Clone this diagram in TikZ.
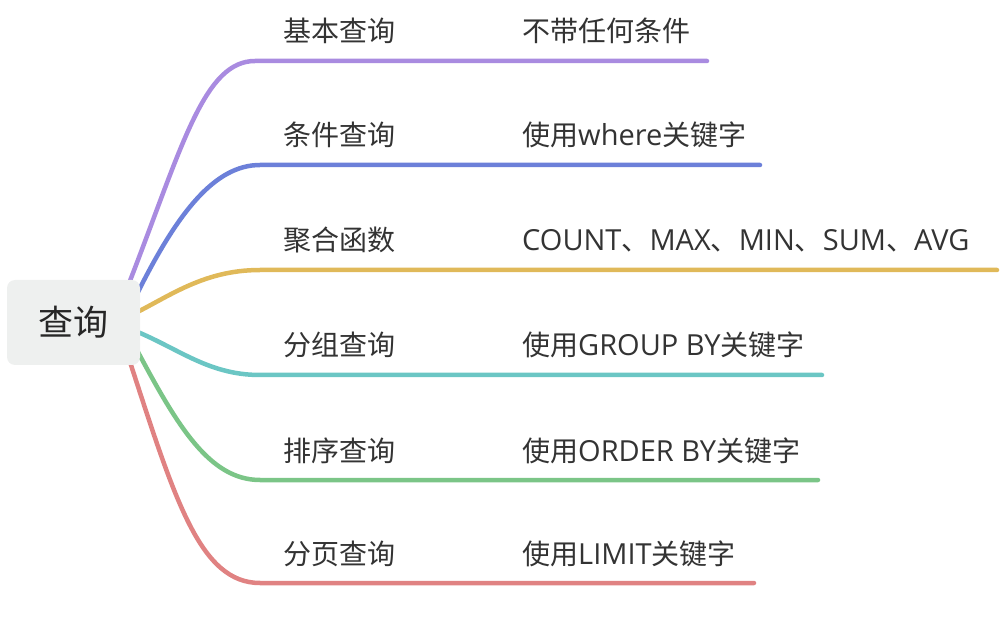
\documentclass[tikz,border=0pt]{standalone}
\usepackage{fontspec}
\setmainfont{Noto Sans CJK SC}
\newfontfamily\latf{Open Sans}
\newcommand{\lat}{\latf\fontsize{29}{32}\selectfont}
\begin{document}
\begin{tikzpicture}[x=1pt,y=-1pt,
  br/.style={line width=4.5pt,line cap=round},
  lab/.style={anchor=base west,inner sep=0pt,text=black!80,font=\fontsize{28}{32}\selectfont},
  rootbox/.style={draw=none,fill=rootfill,rounded corners=8pt,minimum width=133pt,minimum height=85pt,inner sep=0pt,text=black!85,font=\fontsize{35}{40}\selectfont}]
\definecolor{rootfill}{HTML}{EEF0EF}
\definecolor{cpurple}{HTML}{A98BE0}
\definecolor{cblue}{HTML}{6C80D9}
\definecolor{cyellow}{HTML}{E0B959}
\definecolor{cteal}{HTML}{6BC6C4}
\definecolor{cgreen}{HTML}{7BC587}
\definecolor{cred}{HTML}{E08282}
\useasboundingbox (0,0) rectangle (1002,628);
% start and end coordinates
\coordinate (s1) at (120,307);
\coordinate (a1) at (133,273);
\coordinate (e1) at (255,61);
\coordinate (f1) at (707,61);
\coordinate (s2) at (125,318);
\coordinate (a2) at (138,292);
\coordinate (e2) at (260,165);
\coordinate (f2) at (760,165);
\coordinate (a3) at (125,318);
\coordinate (e3) at (260,270);
\coordinate (f3) at (997,270);
\coordinate (a4) at (125,327);
\coordinate (e4) at (260,375);
\coordinate (f4) at (822,375);
\coordinate (s5) at (125,330);
\coordinate (a5) at (138,352);
\coordinate (e5) at (260,480);
\coordinate (f5) at (818,480);
\coordinate (s6) at (118,335);
\coordinate (a6) at (130,362);
\coordinate (e6) at (260,583);
\coordinate (f6) at (754,583);
% branches
\draw[br,cpurple] (s1) -- (a1) .. controls (183,143) and (205,61) .. (e1) -- (f1);
\draw[br,cblue] (s2) -- (a2) .. controls (178,212) and (215,165) .. (e2) -- (f2);
\draw[br,cyellow] (a3) .. controls (165,300) and (200,270) .. (e3) -- (f3);
\draw[br,cteal] (a4) .. controls (175,345) and (205,375) .. (e4) -- (f4);
\draw[br,cgreen] (s5) -- (a5) .. controls (178,427) and (210,480) .. (e5) -- (f5);
\draw[br,cred] (s6) -- (a6) .. controls (175,500) and (200,583) .. (e6) -- (f6);
% root
\node[rootbox] (root) at (73.5,322.5) {查询};
% labels
\node[lab] (l1) at (283,42) {基本查询};
\node[lab] (r1) at (522,42) {不带任何条件};
\node[lab] (l2) at (283,146) {条件查询};
\node[lab] (r2) at (522,146) {使用{\lat where}关键字};
\node[lab] (l3) at (283,251) {聚合函数};
\node[lab] (r3) at (522,251) {{\lat COUNT}、{\lat MAX}、{\lat MIN}、{\lat SUM}、{\lat AVG}};
\node[lab] (l4) at (283,356) {分组查询};
\node[lab] (r4) at (522,356) {使用{\lat GROUP BY}关键字};
\node[lab] (l5) at (283,461) {排序查询};
\node[lab] (r5) at (522,461) {使用{\lat ORDER BY}关键字};
\node[lab] (l6) at (283,564) {分页查询};
\node[lab] (r6) at (522,564) {使用{\lat LIMIT}关键字};
\end{tikzpicture}
\end{document}
